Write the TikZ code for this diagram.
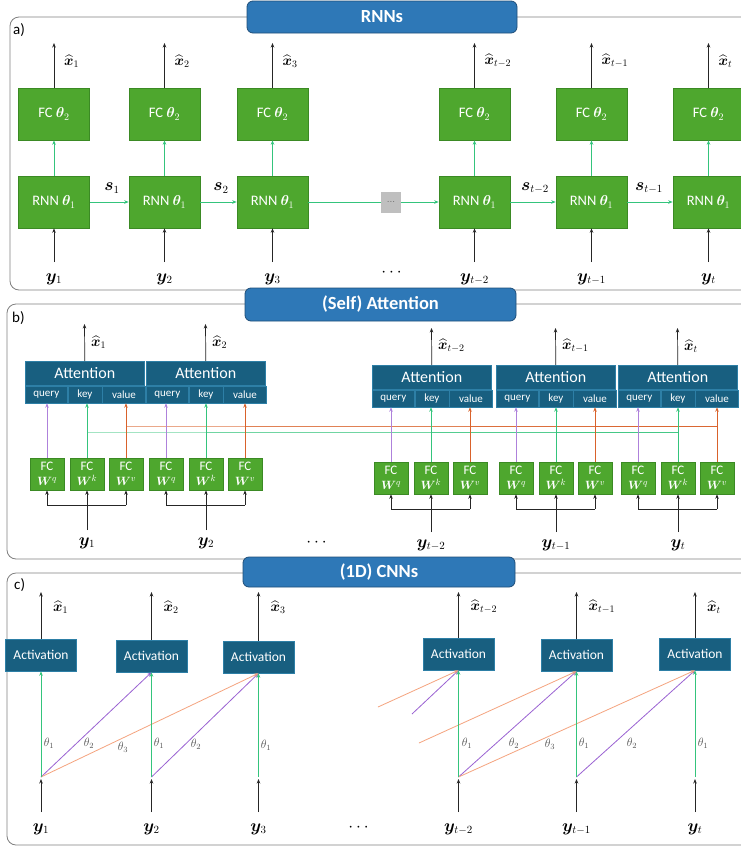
\documentclass[tikz,border=0pt]{standalone}
\usepackage{amsmath,bm}
\usepackage[no-math]{fontspec}
\newfontfamily\uifont{Carlito}
\usetikzlibrary{arrows.meta}
\definecolor{gfill}{HTML}{4EA72E}
\definecolor{gdraw}{HTML}{3B8A24}
\definecolor{afill}{HTML}{185F80}
\definecolor{adraw}{HTML}{2D7FA6}
\definecolor{tfill}{HTML}{2E78B7}
\definecolor{tdraw}{HTML}{1F4E79}
\definecolor{garrow}{HTML}{34C47C}
\definecolor{parrow}{HTML}{9A62D2}
\definecolor{oarrow}{HTML}{D9622B}
\definecolor{olight}{HTML}{F5A47F}
\definecolor{framec}{HTML}{808080}
\definecolor{thetac}{HTML}{555555}
\tikzset{
  panelframe/.style={draw=framec, line width=0.8pt, rounded corners=9pt},
  titlebox/.style={draw=tdraw, fill=tfill, line width=0.8pt, rounded corners=6pt, text=white,
    font=\uifont\bfseries\fontsize{18.5}{21}\selectfont, inner sep=0pt},
  gbox/.style={draw=gdraw, fill=gfill, line width=0.6pt, text=white, inner sep=0pt,
    font=\uifont\fontsize{14.5}{16}\selectfont},
  rbox/.style={gbox, minimum width=71pt, minimum height=52pt},
  fcs/.style={gbox, minimum width=34pt, minimum height=32pt, align=center,
    font=\uifont\fontsize{13}{14.5}\selectfont},
  attmain/.style={draw=adraw, fill=afill, line width=0.6pt, text=white, inner sep=0pt,
    minimum height=24pt, font=\uifont\fontsize{16}{18}\selectfont},
  attsub/.style={draw=adraw, fill=afill, line width=0.6pt, text=white, inner sep=0pt,
    minimum height=17pt, font=\uifont\fontsize{11}{12}\selectfont},
  actbox/.style={draw=adraw, fill=afill, line width=0.6pt, text=white, inner sep=0pt,
    minimum width=71pt, minimum height=32pt, font=\uifont\fontsize{13.5}{15}\selectfont},
  mlab/.style={inner sep=1pt, font=\fontsize{16}{18}\selectfont},
  xlab/.style={inner sep=1pt, anchor=west, font=\fontsize{14.5}{16}\selectfont},
  plab/.style={inner sep=0pt, anchor=west, font=\uifont\fontsize{15}{17}\selectfont},
  thlab/.style={inner sep=0pt, text=thetac, font=\fontsize{11.5}{13}\selectfont},
  blk/.style={-{Stealth[length=4.5pt,width=3.5pt]}, black!85, line width=0.7pt},
  blkline/.style={black!85, line width=0.7pt},
  garr/.style={-{Stealth[length=4.5pt,width=3.5pt]}, garrow, line width=0.8pt},
  gline/.style={garrow, line width=0.8pt},
  parr/.style={-{Stealth[length=4.5pt,width=3.5pt]}, parrow!80, line width=0.8pt},
  oarr/.style={-{Stealth[length=4.5pt,width=3.5pt]}, oarrow, line width=0.8pt},
  ohl/.style={oarrow, line width=1pt, opacity=0.55},
  ghl/.style={garrow, line width=1pt, opacity=0.45},
  cparr/.style={-{Stealth[length=4.5pt,width=3.5pt]}, parrow, line width=0.8pt},
  coarr/.style={-{Stealth[length=4.5pt,width=3.5pt]}, olight, line width=0.8pt},
}
\newcommand\attblk[3]{%
  \node[attmain, anchor=north west, minimum width=119pt] (#1) at (#2,#3) {Attention};
  \node[attsub, anchor=north west, minimum width=42pt] (#1-q) at (#1.south west) {query};
  \node[attsub, anchor=north west, minimum width=34pt] (#1-k) at (#1-q.north east) {key};
  \node[attsub, anchor=north west, minimum width=43pt] (#1-v) at (#1-k.north east) {value};
}
\begin{document}
\begin{tikzpicture}[x=1pt,y=-1pt]
\useasboundingbox (0,0) rectangle (740,847);
\fill[white] (0,0) rectangle (740,847);

% ---------------- frames and titles ----------------
\draw[panelframe] (10,17) rectangle (770,290);
\draw[panelframe] (7,304) rectangle (770,559);
\draw[panelframe] (7,573) rectangle (770,845);
\node[titlebox, minimum width=270pt, minimum height=32pt] (ta) at (382,17) {RNNs};
\node[titlebox, minimum width=271pt, minimum height=33pt] (tb) at (380.5,304.5) {(Self) Attention};
\node[titlebox, minimum width=272pt, minimum height=30pt] (tc) at (379,572) {(1D) CNNs};
\node[plab] (la) at (13,30) {a)};
\node[plab] (lb) at (12,318) {b)};
\node[plab] (lc) at (14,585) {c)};

% ---------------- panel a: RNNs ----------------
\foreach \n/\x/\lab in {1/54/1, 2/164.5/2, 3/272.5/3, 4/474.5/{t-2}, 5/591.5/{t-1}, 6/708.5/t}{
  \node[rbox] (fc\n) at (\x,114) {FC $\bm\theta_2$};
  \node[rbox] (rnn\n) at (\x,202) {RNN $\bm\theta_1$};
  \coordinate (ao\n) at (\x,43);
  \coordinate (ai\n) at (\x,262);
  \node[mlab] (ay\n) at (\x,279) {$\bm y_{\lab}$};
  \node[xlab] (ax\n) at (\x+9,61) {$\widehat{\bm x}_{\lab}$};
  \draw[blk] (fc\n.north) -- (ao\n);
  \draw[garr] (rnn\n.north) -- (fc\n.south);
  \draw[blk] (ai\n) -- (rnn\n.south);
}
\node[fill=black!25, minimum width=20pt, minimum height=21pt, inner sep=0pt,
  text=black!60, font=\fontsize{10}{10}\selectfont] (dots) at (391,202) {...};
\draw[garr] (rnn1.east) -- (rnn2.west);
\draw[garr] (rnn2.east) -- (rnn3.west);
\draw[gline] (rnn3.east) -- (dots.west);
\draw[garr] (dots.east) -- (rnn4.west);
\draw[garr] (rnn4.east) -- (rnn5.west);
\draw[garr] (rnn5.east) -- (rnn6.west);
\node[mlab] (s1) at (112,188) {$\bm s_1$};
\node[mlab] (s2) at (221,188) {$\bm s_2$};
\node[mlab] (s3) at (535,188) {$\bm s_{t-2}$};
\node[mlab] (s4) at (649,188) {$\bm s_{t-1}$};
\node[mlab] (adots) at (393,273) {$\cdots$};

% ---------------- panel b: attention ----------------
\foreach \n/\L/\T/\qx/\kx/\vx/\fy/\by/\ly/\lab in {
  1/25/361/47/87/126/474/505/543/1,
  2/146/361/166/206/245/474/505/543/2,
  3/372/365/391/431/470/478/509/545/{t-2},
  4/496/365/516/556/595/478/509/545/{t-1},
  5/618/365/638/678/717/478/509/545/t}{
  \draw[ohl] (\vx,426) -- (717,426);
  \draw[ghl] (\kx,432) -- (678,432);
}
\foreach \n/\L/\T/\qx/\kx/\vx/\fy/\by/\ly/\lab in {
  1/25/361/47/87/126/474/505/543/1,
  2/146/361/166/206/245/474/505/543/2,
  3/372/365/391/431/470/478/509/545/{t-2},
  4/496/365/516/556/595/478/509/545/{t-1},
  5/618/365/638/678/717/478/509/545/t}{
  \attblk{A\n}{\L}{\T}
  \node[fcs] (Q\n) at (\qx,\fy) {FC\\$\bm W^{q}$};
  \node[fcs] (K\n) at (\kx,\fy) {FC\\$\bm W^{k}$};
  \node[fcs] (V\n) at (\vx,\fy) {FC\\$\bm W^{v}$};
  \node[mlab] (by\n) at (\kx,\ly) {$\bm y_{\lab}$};
  \coordinate (bs\n) at (\kx,\ly-13);
  \coordinate (bl\n) at (\qx,\by);
  \coordinate (br\n) at (\vx,\by);
  \coordinate (bo\n) at (\L+59.5,\T-37);
  \draw[blk] (bs\n) -- (K\n.south);
  \draw[blkline] (bl\n) -- (br\n);
  \draw[blk] (bl\n) -- (Q\n.south);
  \draw[blk] (br\n) -- (V\n.south);
  \draw[blk] (A\n.north) -- (bo\n);
  \node[xlab] (bx\n) at (\L+65,\T-19) {$\widehat{\bm x}_{\lab}$};
  \draw[parr] (Q\n.north) -- (Q\n.north |- A\n-q.south);
  \draw[garr] (K\n.north) -- (K\n.north |- A\n-k.south);
  \draw[oarr] (V\n.north) -- (V\n.north |- A\n-v.south);
}
\node[mlab] (bdots) at (318,543) {$\cdots$};

% ---------------- panel c: 1D CNNs ----------------
\foreach \n/\x/\bym/\lab in {1/41/655/1, 2/151.5/656/2, 3/258.5/657/3, 4/458.5/654/{t-2}, 5/576.5/655/{t-1}, 6/695/654/t}{
  \node[actbox] (act\n) at (\x,\bym) {Activation};
  \coordinate (p\n) at (\x,777);
  \coordinate (pa\n) at (\x,779);
  \coordinate (ci\n) at (\x,812);
  \coordinate (co\n) at (\x,592);
  \node[mlab] (cy\n) at (\x,829) {$\bm y_{\lab}$};
  \node[xlab] (cx\n) at (\x+11,607) {$\widehat{\bm x}_{\lab}$};
  \draw[blk] (act\n.north) -- (co\n);
  \draw[blk] (ci\n) -- (pa\n);
}
\draw[cparr] (p1) -- (act2.south);
\draw[cparr] (p2) -- (act3.south);
\draw[cparr] (p4) -- (act5.south);
\draw[cparr] (p5) -- (act6.south);
\draw[coarr] (p1) -- (act3.south);
\draw[coarr] (p4) -- (act6.south);
\coordinate (pq) at (412,714);
\coordinate (po1) at (378,707);
\coordinate (po2) at (419,743);
\draw[cparr] (pq) -- (act4.south);
\draw[coarr] (po1) -- (act4.south);
\draw[coarr] (po2) -- (act5.south);
\foreach \n in {1,...,6}{
  \draw[garr] (p\n) -- (act\n.south);
}
\node[thlab] (t11) at (49,743) {$\theta_1$};
\node[thlab] (t12) at (89,743) {$\theta_2$};
\node[thlab] (t13) at (123,747) {$\theta_3$};
\node[thlab] (t21) at (159,743) {$\theta_1$};
\node[thlab] (t22) at (196,744) {$\theta_2$};
\node[thlab] (t31) at (266,745) {$\theta_1$};
\node[thlab] (t41) at (467,743) {$\theta_1$};
\node[thlab] (t42) at (514,743) {$\theta_2$};
\node[thlab] (t43) at (550,744) {$\theta_3$};
\node[thlab] (t51) at (584,743) {$\theta_1$};
\node[thlab] (t52) at (632,743) {$\theta_2$};
\node[thlab] (t61) at (703,743) {$\theta_1$};
\node[mlab] (cdots) at (360,828) {$\cdots$};
\end{tikzpicture}
\end{document}
